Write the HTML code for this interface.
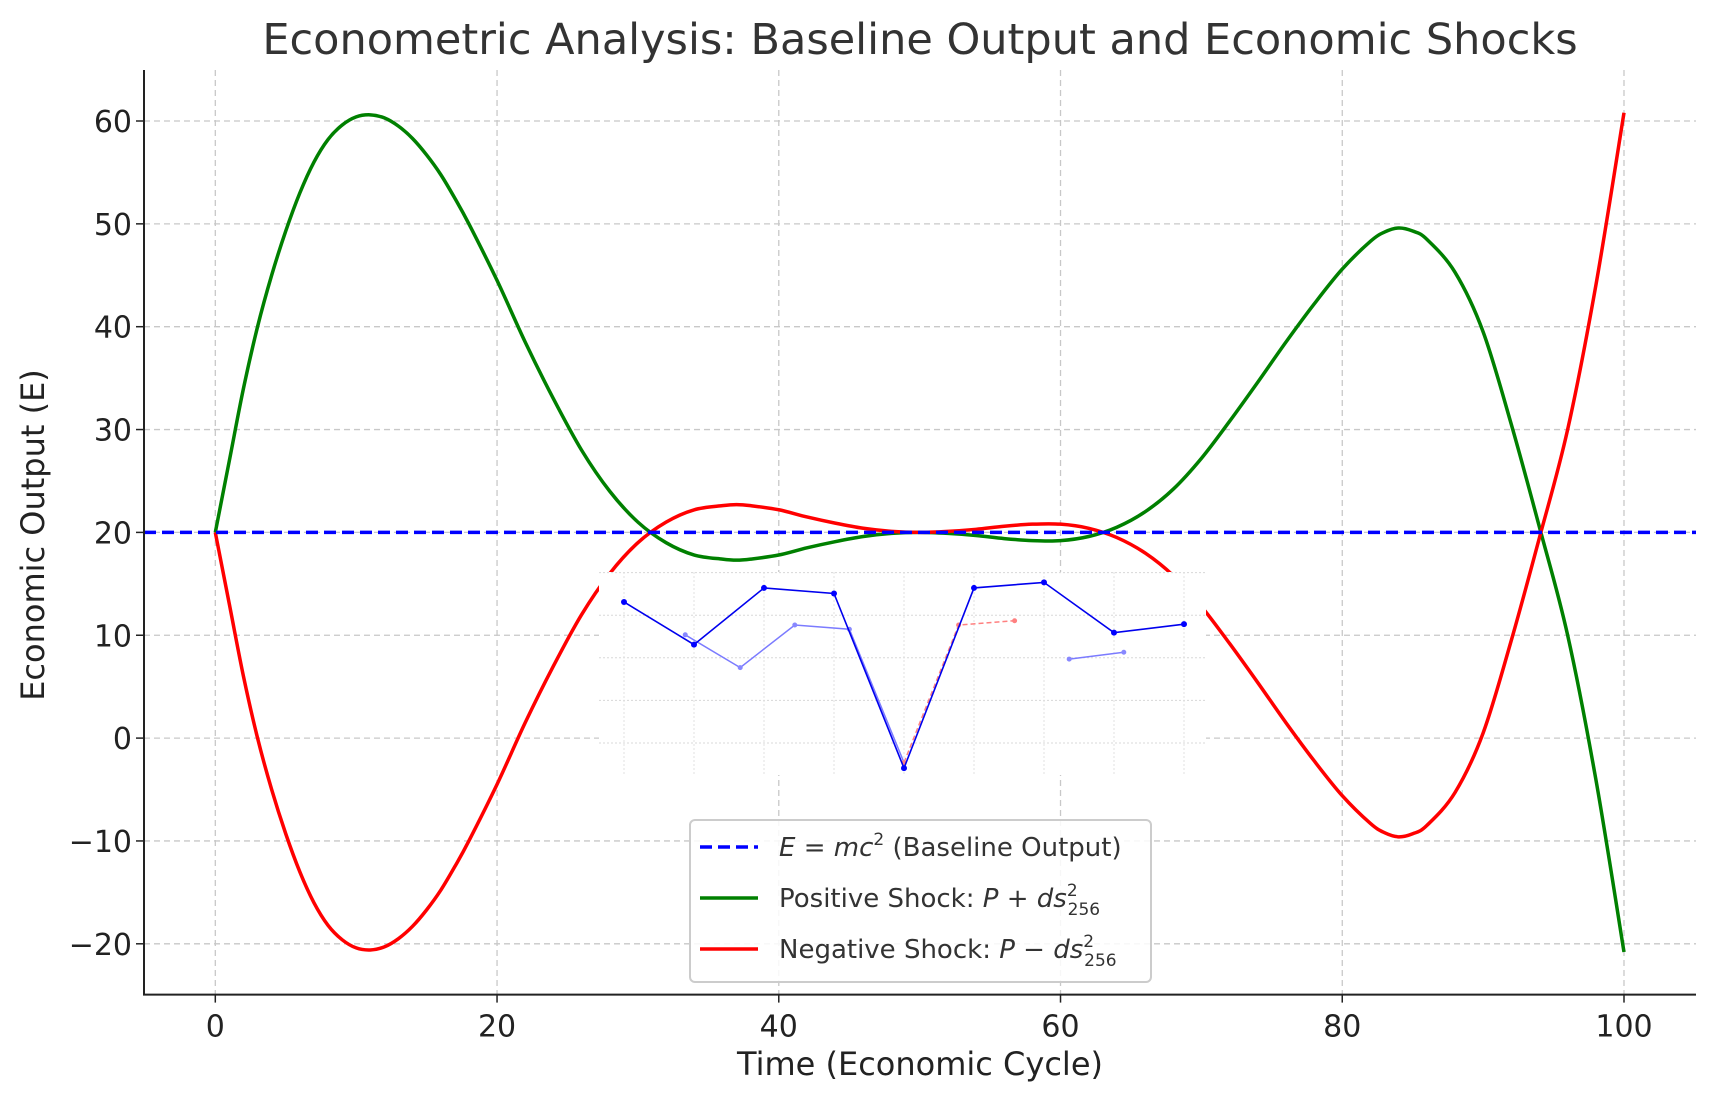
<!DOCTYPE html>
<html><head><meta charset="utf-8"><style>
html,body{margin:0;padding:0;background:#fff;}
svg{display:block;font-family:"DejaVu Sans","Liberation Sans",sans-serif;}
</style></head><body>
<svg id="chart" width="1714" height="1101" viewBox="0 0 1714 1101" xmlns="http://www.w3.org/2000/svg">
<rect width="1714" height="1101" fill="#fff"/>
<text x="920" y="54" font-size="43" text-anchor="middle" fill="#333">Econometric Analysis: Baseline Output and Economic Shocks</text>
<g id="grid"></g>
<g id="series"></g>
<g id="inset"></g>
<g id="axes"></g>
<text x="920" y="1075" font-size="32" text-anchor="middle" fill="#222">Time (Economic Cycle)</text>
<text transform="translate(44,535) rotate(-90)" font-size="32" text-anchor="middle" fill="#222">Economic Output (E)</text>
<g>
<rect x="690" y="820" width="461" height="162" rx="5" fill="#fff" fill-opacity="0.85" stroke="#ccc" stroke-width="2"/>
<line x1="700" y1="847" x2="758" y2="847" stroke="#0000ff" stroke-width="3.5" stroke-dasharray="12,6"/>
<text x="779" y="856" font-size="26" fill="#333"><tspan font-style="italic">E</tspan> = <tspan font-style="italic">mc</tspan><tspan font-size="17" dy="-11">2</tspan><tspan dy="11"> (Baseline Output)</tspan></text>
<line x1="700" y1="898" x2="758" y2="898" stroke="#008000" stroke-width="3.5"/>
<text x="779" y="907" font-size="26" fill="#333">Positive Shock: <tspan font-style="italic">P</tspan> + <tspan font-style="italic">ds</tspan><tspan font-size="17" dy="-11">2</tspan><tspan font-size="17" dx="-10" dy="19">256</tspan></text>
<line x1="700" y1="949" x2="758" y2="949" stroke="#ff0000" stroke-width="3.5"/>
<text x="779" y="958" font-size="26" fill="#333">Negative Shock: <tspan font-style="italic">P</tspan> − <tspan font-style="italic">ds</tspan><tspan font-size="17" dy="-11">2</tspan><tspan font-size="17" dx="-10" dy="19">256</tspan></text>
</g>
</svg>
<script>
const xTicks=[0,20,40,60,80,100];
const yTicks=[-20,-10,0,10,20,30,40,50,60];
const baseline=20;
const timeX=[0,1,2,3,4,5,6,7,8,9,10,11,12,13,14,15,16,17,18,20,22,24,26,28,30,32,34,36,37,38,40,42,44,46,48,50,52,54,56,58,60,62,64,66,68,70,72,74,76,78,80,82,83,84,85,86,88,90,92,94,96,98,100];
const positive=[20,27,34,40,45,49.3,53,56,58.2,59.6,60.4,60.6,60.3,59.5,58.3,56.7,54.8,52.5,50,44.5,38.5,33,28,24,21,19,17.8,17.4,17.3,17.4,17.8,18.5,19.1,19.6,19.9,20,19.9,19.7,19.4,19.2,19.2,19.6,20.5,22,24.2,27.2,30.8,34.6,38.5,42.2,45.6,48.3,49.2,49.6,49.3,48.5,45.3,39.5,30.5,20.5,10,-4,-20.8];
const negative=[20,13,6,0,-5,-9.3,-13,-16,-18.2,-19.6,-20.4,-20.6,-20.3,-19.5,-18.3,-16.7,-14.8,-12.5,-10,-4.5,1.5,7,12,16,19,21,22.2,22.6,22.7,22.6,22.2,21.5,20.9,20.4,20.1,20,20.1,20.3,20.6,20.8,20.8,20.4,19.5,18,15.8,12.8,9.2,5.4,1.5,-2.2,-5.6,-8.3,-9.2,-9.6,-9.3,-8.5,-5.3,0.5,9.5,19.5,30,44,60.8];
// inset data
const insetDarkX=[0,1,2,3,4,5,6,7,8];
const insetDarkY=[3.31,2.31,3.64,3.51,-0.59,3.64,3.77,2.59,2.79];
const insetLightX=[0.875,1.66,2.44,3.22,4.0];
const insetLightY=[2.54,1.77,2.77,2.67,-0.46];
const insetRedX=[4.0,4.78,5.58];
const insetRedY=[-0.46,2.77,2.87];
const insetLight2X=[6.36,7.14];
const insetLight2Y=[1.97,2.13];
const insetYTicks=[0,1,2,3,4];

const NS="http://www.w3.org/2000/svg";
const X=v=>215.3+(v/100)*(1624-215.3);
const Y=v=>121+(60-v)*(943.8-121)/80;
function mk(tag,attrs,parent){const e=document.createElementNS(NS,tag);for(const k in attrs)e.setAttribute(k,attrs[k]);parent.appendChild(e);return e;}
const grid=document.getElementById('grid'),series=document.getElementById('series'),axes=document.getElementById('axes'),inset=document.getElementById('inset');
const L=144,R=1696,T=70,B=994.6;
xTicks.forEach(t=>{
  const g=mk('line',{x1:X(t),x2:X(t),y1:T,y2:B,stroke:'#c8c8c8','stroke-width':1.3,'stroke-dasharray':'6,4'},grid);
  
  
  const tk=mk('line',{x1:X(t),x2:X(t),y1:B,y2:B+8,stroke:'#222','stroke-width':1.5},axes);
  
  
  const lb=mk('text',{x:X(t),y:B+42,'font-size':30,'text-anchor':'middle',fill:'#222'},axes);
  
  
  lb.textContent=t;
});
yTicks.forEach(t=>{
  const g=mk('line',{x1:L,x2:R,y1:Y(t),y2:Y(t),stroke:'#c8c8c8','stroke-width':1.3,'stroke-dasharray':'6,4'},grid);
  
  
  const tk=mk('line',{x1:L-8,x2:L,y1:Y(t),y2:Y(t),stroke:'#222','stroke-width':1.5},axes);
  
  
  const lb=mk('text',{x:L-12,y:Y(t)+11,'font-size':30,'text-anchor':'end',fill:'#222'},axes);
  
  
  lb.textContent=t<0?'\u2212'+(-t):t;
});
const ax=mk('path',{d:`M${L},${T} V${B} H${R}`,fill:'none',stroke:'#222','stroke-width':2},axes);


function smooth(xs,ys){
  const p=xs.map((x,i)=>[X(x),Y(ys[i])]);
  let d=`M${p[0][0]},${p[0][1]}`;
  for(let i=0;i<p.length-1;i++){
    const p0=p[i-1]||p[i],p1=p[i],p2=p[i+1],p3=p[i+2]||p2;
    const c1=[p1[0]+(p2[0]-p0[0])/6,p1[1]+(p2[1]-p0[1])/6];
    const c2=[p2[0]-(p3[0]-p1[0])/6,p2[1]-(p3[1]-p1[1])/6];
    d+=` C${c1[0]},${c1[1]} ${c2[0]},${c2[1]} ${p2[0]},${p2[1]}`;
  }
  return d;
}
const gp=mk('path',{d:smooth(timeX,positive),fill:'none',stroke:'#008000','stroke-width':3.5},series);


const rp=mk('path',{d:smooth(timeX,negative),fill:'none',stroke:'#ff0000','stroke-width':3.5},series);


const bl=mk('line',{x1:L,x2:R,y1:Y(baseline),y2:Y(baseline),stroke:'#0000ff','stroke-width':3.5,'stroke-dasharray':'12,6'},series);



// inset
const IX=v=>624+v*70;
const IY=v=>743-v*42.6;
const ibg=mk('rect',{x:599,y:572,width:607,height:203,fill:'#fff'},inset);


insetYTicks.forEach(t=>{
  const g=mk('line',{x1:599,x2:1206,y1:IY(t),y2:IY(t),stroke:'#d8d8d8','stroke-width':1,'stroke-dasharray':'2,2'},inset);
  
  
});
insetDarkX.forEach(t=>{
  const g=mk('line',{x1:IX(t),x2:IX(t),y1:572,y2:775,stroke:'#e2e2e2','stroke-width':1,'stroke-dasharray':'2,2'},inset);
  
  
});
function poly(xs,ys,attrs,name,r,fill){
  const pl=mk('polyline',Object.assign({points:xs.map((x,i)=>IX(x)+','+IY(ys[i])).join(' '),fill:'none'},attrs),inset);
  
  
  xs.forEach((x,i)=>{const c=mk('circle',{cx:IX(x),cy:IY(ys[i]),r:r,fill:fill},inset);
    
    });
}
poly(insetLightX,insetLightY,{stroke:'#7b7bff','stroke-width':1.5},'inset-light-series',2.5,'#8888ff');
poly(insetLight2X,insetLight2Y,{stroke:'#7b7bff','stroke-width':1.5},'inset-light-series-2',2.5,'#8888ff');
poly(insetRedX,insetRedY,{stroke:'#ff8080','stroke-width':1.5,'stroke-dasharray':'5,3'},'inset-red-series',2.5,'#ff8080');
poly(insetDarkX,insetDarkY,{stroke:'#0000ee','stroke-width':1.6},'inset-dark-series',3,'#0000ff');
</script>
</body></html>
